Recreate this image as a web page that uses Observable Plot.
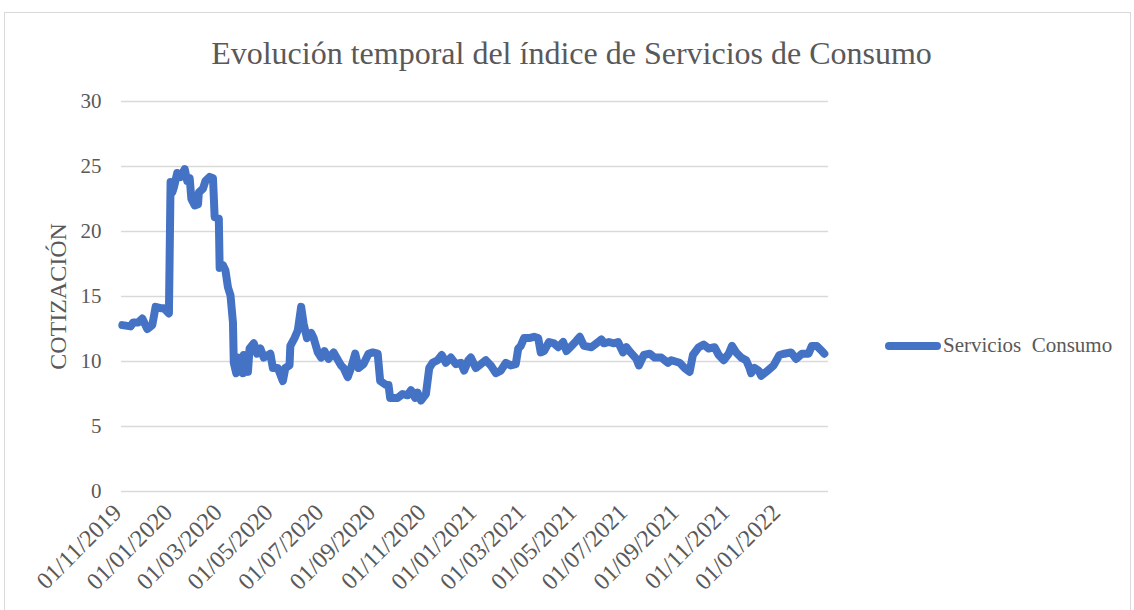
<!DOCTYPE html>
<html><head><meta charset="utf-8">
<script src="https://cdn.jsdelivr.net/npm/d3@7"></script>
<script src="https://cdn.jsdelivr.net/npm/@observablehq/plot@0.6"></script>
<style>
body{margin:0;background:#fff;font-family:"Liberation Serif","Times New Roman",serif;color:#595959;}
#frame{position:absolute;left:4px;top:12px;width:1127px;height:640px;border:1px solid #d9d9d9;box-sizing:border-box;}
#title{position:absolute;left:8px;width:1127px;top:37px;text-align:center;font-size:32px;line-height:1;color:#595959;}
#chart{position:absolute;left:5px;top:80px;}
#legend{position:absolute;left:885px;top:333px;display:flex;align-items:center;font-size:21px;white-space:pre;color:#595959;}
#legend .sw{width:56px;height:8px;border-radius:4px;background:#4472C4;margin-right:2px;}
</style>
</head><body>
<div id="frame"></div>
<div id="title">Evolución temporal del índice de Servicios de Consumo</div>
<div id="chart"></div>
<div id="legend"><div class="sw"></div><span>Servicios  Consumo</span></div>
<script>
const seriesName = "Servicios  Consumo";
const dates = [
"2019-11-02","2019-11-12","2019-11-15","2019-11-21","2019-11-26","2019-12-02","2019-12-08","2019-12-12","2019-12-18","2019-12-22","2019-12-28",
"2019-12-30","2020-01-01","2020-01-03","2020-01-07","2020-01-11","2020-01-16","2020-01-19","2020-01-22","2020-01-24","2020-01-28",
"2020-02-01","2020-02-02","2020-02-07","2020-02-10","2020-02-15","2020-02-19","2020-02-21","2020-02-26","2020-02-27","2020-03-02",
"2020-03-05","2020-03-08","2020-03-11","2020-03-14","2020-03-15","2020-03-18","2020-03-21","2020-03-26","2020-03-27","2020-03-30",
"2020-04-01","2020-04-03","2020-04-08","2020-04-12","2020-04-16","2020-04-20","2020-04-28","2020-05-01","2020-05-07","2020-05-13",
"2020-05-16","2020-05-21","2020-05-22","2020-05-27","2020-05-31","2020-06-04","2020-06-07","2020-06-11","2020-06-16","2020-06-19",
"2020-06-24","2020-06-28","2020-07-02","2020-07-07","2020-07-13","2020-07-22","2020-07-25","2020-07-30","2020-08-03","2020-08-08",
"2020-08-12","2020-08-18","2020-08-24","2020-08-29","2020-09-04","2020-09-07","2020-09-14","2020-09-17","2020-09-19","2020-09-28",
"2020-10-04","2020-10-10","2020-10-14","2020-10-19","2020-10-22","2020-10-26","2020-11-01","2020-11-05","2020-11-09","2020-11-15",
"2020-11-20","2020-11-25","2020-12-01","2020-12-07","2020-12-13","2020-12-17","2020-12-22","2020-12-25","2020-12-31","2021-01-06",
"2021-01-12","2021-01-18","2021-01-24","2021-01-30","2021-02-05","2021-02-11","2021-02-17","2021-02-20","2021-02-23","2021-02-27",
"2021-03-05","2021-03-11","2021-03-16","2021-03-19","2021-03-23","2021-03-29","2021-04-04","2021-04-09","2021-04-15","2021-04-19",
"2021-04-25","2021-05-01","2021-05-05","2021-05-10","2021-05-19","2021-05-25","2021-05-31","2021-06-03","2021-06-09","2021-06-15",
"2021-06-20","2021-06-26","2021-06-30","2021-07-05","2021-07-12","2021-07-15","2021-07-21","2021-07-28","2021-08-03","2021-08-11",
"2021-08-19","2021-08-23","2021-09-02","2021-09-08","2021-09-14","2021-09-18","2021-09-25","2021-10-01","2021-10-07","2021-10-14",
"2021-10-19","2021-10-25","2021-10-31","2021-11-04","2021-11-09","2021-11-15","2021-11-21","2021-11-25","2021-11-27","2021-12-01",
"2021-12-06","2021-12-09","2021-12-15","2021-12-24","2021-12-31","2022-01-06","2022-01-14","2022-01-20","2022-01-27","2022-02-04",
"2022-02-08","2022-02-14","2022-02-20","2022-02-23"
];
const values = [
12.8,12.7,13.0,13.0,13.3,12.5,12.8,14.2,14.1,14.1,13.7,
23.8,23.0,23.4,24.5,24.2,24.8,23.9,24.1,22.5,22.0,
22.1,23.0,23.3,23.9,24.2,24.1,21.1,21.0,17.2,17.4,
17.0,15.7,15.1,13.0,9.9,9.1,10.3,9.1,10.5,10.3,
9.2,11.0,11.4,10.6,11.0,10.3,10.6,9.5,9.5,8.5,
9.5,9.7,11.2,11.8,12.4,14.2,12.9,11.8,12.2,11.8,
10.7,10.3,10.8,10.2,10.7,9.7,9.5,8.8,9.5,10.6,
9.5,9.8,10.6,10.7,10.6,8.5,8.2,8.2,7.2,7.2,
7.5,7.4,7.8,7.2,7.6,7.0,7.5,9.5,9.9,10.1,
10.5,9.9,10.3,9.8,9.9,9.3,10.1,10.3,9.5,9.8,
10.1,9.7,9.1,9.3,9.9,9.7,9.8,11.0,11.2,11.8,
11.8,11.9,11.8,10.7,10.8,11.5,11.4,11.1,11.5,10.8,
11.2,11.6,11.9,11.2,11.1,11.4,11.7,11.4,11.5,11.4,
11.5,10.7,11.1,10.7,10.2,9.7,10.5,10.6,10.3,10.3,
9.9,10.1,9.9,9.5,9.2,10.5,11.1,11.3,11.0,11.1,
10.5,10.1,10.6,11.2,10.7,10.3,10.1,9.5,9.1,9.5,
9.3,8.9,9.2,9.7,10.5,10.6,10.7,10.2,10.6,10.6,
11.2,11.2,10.8,10.6
];
const yTicks = [0, 5, 10, 15, 20, 25, 30];
const xTickDates = ["2019-11-01","2020-01-01","2020-03-01","2020-05-01","2020-07-01","2020-09-01","2020-11-01",
"2021-01-01","2021-03-01","2021-05-01","2021-07-01","2021-09-01","2021-11-01","2022-01-01"];
const xDomain = ["2019-11-01", "2022-02-28"];

const data = dates.map((d, i) => ({date: new Date(d), value: values[i], series: seriesName}));

const chart = Plot.plot({
  width: 860, height: 530,
  marginLeft: 116, marginRight: 37, marginTop: 21, marginBottom: 119,
  style: {fontFamily: '"Liberation Serif", "Times New Roman", serif', fontSize: "21px", color: "#595959", background: "transparent", overflow: "visible"},
  x: {type: "utc", domain: xDomain.map(d => new Date(d))},
  y: {domain: [0, 30]},
  marks: [
    Plot.gridY(yTicks, {stroke: "#d9d9d9", strokeOpacity: 1, strokeWidth: 1.5}),
    Plot.axisY(yTicks, {tickSize: 0, tickPadding: 20, label: "COTIZACIÓN", labelAnchor: "center", labelOffset: 73, labelArrow: "none", fontSize: 21}),
    Plot.axisX(xTickDates.map(d => new Date(d)), {tickSize: 0, tickPadding: 17, dx: -4, tickRotate: -45, tickFormat: d3.utcFormat("%d/%m/%Y"), label: null, fontSize: 24}),
    Plot.lineY(data, {x: "date", y: "value", stroke: "#4472C4", strokeWidth: 8, strokeLinejoin: "round", strokeLinecap: "round"})
  ]
});
document.getElementById("chart").appendChild(chart);
chart.querySelectorAll("g[aria-label='y-axis label'] text").forEach(t => t.setAttribute("font-size", 24));
</script>
</body></html>
